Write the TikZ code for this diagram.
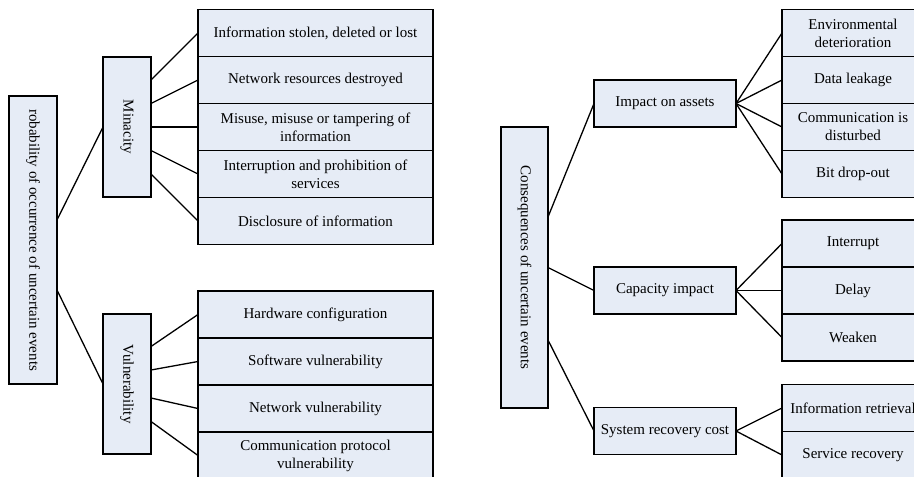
\documentclass[tikz,border=0pt]{standalone}
\usepackage{fontspec}
\setmainfont{Liberation Serif}
\usepackage{graphicx}
\definecolor{boxfill}{RGB}{230,236,246}
\tikzset{
  box/.style={draw=black, fill=boxfill, line width=1.4pt, inner sep=0pt, outer sep=0pt,
              align=center, font=\fontsize{15}{18}\selectfont},
  vbox/.style={box, minimum width=48pt},
  midbox/.style={box, minimum width=142pt, minimum height=47pt},
  leafL/.style={box, minimum width=235pt, minimum height=47pt},
  leafR/.style={box, minimum width=142pt, minimum height=47pt},
  link/.style={draw=black, line width=1.3pt}
}
\begin{document}
\begin{tikzpicture}[x=1pt, y=-1pt]
\useasboundingbox (0,0) rectangle (914,477);
\clip (0,0) rectangle (914,477);

% ---- left tree: probability of occurrence ----
\node[vbox, minimum height=288pt] (prob) at (33,240)
  {\rotatebox{-90}{robability of occurrence of uncertain events}};
\node[vbox, minimum height=140pt] (mina) at (127,127) {\rotatebox{-90}{Minacity}};
\node[vbox, minimum height=140pt] (vuln) at (127,384) {\rotatebox{-90}{Vulnerability}};

\node[leafL] (m1) at (315.5,33)    {Information stolen, deleted or lost};
\node[leafL] (m2) at (315.5,80)    {Network resources destroyed};
\node[leafL] (m3) at (315.5,127)   {Misuse, misuse or tampering of\\information};
\node[leafL] (m4) at (315.5,174)   {Interruption and prohibition of\\services};
\node[leafL] (m5) at (315.5,221)   {Disclosure of information};

\node[leafL] (v1) at (315.5,314.5) {Hardware configuration};
\node[leafL] (v2) at (315.5,361.5) {Software vulnerability};
\node[leafL] (v3) at (315.5,408.5) {Network vulnerability};
\node[leafL] (v4) at (315.5,455.5) {Communication protocol\\vulnerability};

\draw[link] ([yshift=20pt]prob.east) -- (mina.west);
\draw[link] ([yshift=-50pt]prob.east) -- (vuln.west);

\draw[link] ([yshift=47pt]mina.east) -- (m1.west);
\draw[link] ([yshift=23.5pt]mina.east) -- (m2.west);
\draw[link] (mina.east) -- (m3.west);
\draw[link] ([yshift=-23.5pt]mina.east) -- (m4.west);
\draw[link] ([yshift=-47pt]mina.east) -- (m5.west);

\draw[link] ([yshift=37.5pt]vuln.east) -- (v1.west);
\draw[link] ([yshift=14pt]vuln.east) -- (v2.west);
\draw[link] ([yshift=-14pt]vuln.east) -- (v3.west);
\draw[link] ([yshift=-37.5pt]vuln.east) -- (v4.west);

% ---- right tree: consequences ----
\node[vbox, minimum width=47pt, minimum height=281pt] (cons) at (524.5,267.5)
  {\rotatebox{-90}{Consequences of uncertain events}};
\node[midbox] (asset) at (665,103.5) {Impact on assets};
\node[midbox] (capa)  at (665,290.5) {Capacity impact};
\node[midbox] (recov) at (665,431)   {System recovery cost};

\node[leafR] (a1) at (853,33)    {Environmental\\deterioration};
\node[leafR] (a2) at (853,80)    {Data leakage};
\node[leafR] (a3) at (853,127)   {Communication is\\disturbed};
\node[leafR] (a4) at (853,174)   {Bit drop-out};

\node[leafR] (c1) at (853,243.5) {Interrupt};
\node[leafR] (c2) at (853,290.5) {Delay};
\node[leafR] (c3) at (853,337.5) {Weaken};

\node[leafR] (r1) at (853,408)   {Information retrieval};
\node[leafR] (r2) at (853,455)   {Service recovery};

\draw[link] ([yshift=50.5pt]cons.east) -- (asset.west);
\draw[link] (cons.east) -- (capa.west);
\draw[link] ([yshift=-72.5pt]cons.east) -- (recov.west);

\foreach \t in {a1,a2,a3,a4} \draw[link] (asset.east) -- (\t.west);
\foreach \t in {c1,c2,c3} \draw[link] (capa.east) -- (\t.west);
\foreach \t in {r1,r2} \draw[link] (recov.east) -- (\t.west);
\end{tikzpicture}
\end{document}
